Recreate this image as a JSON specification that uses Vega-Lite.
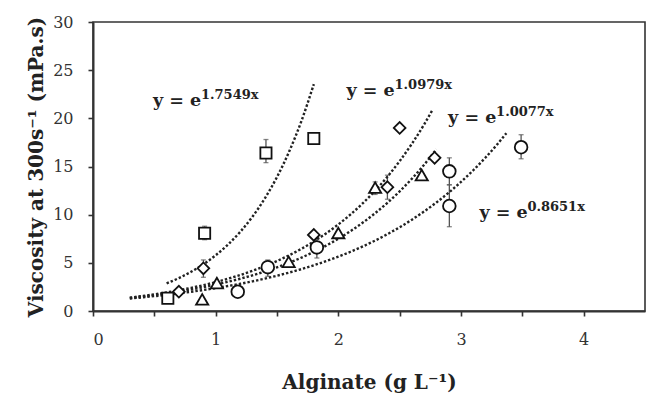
{
  "$schema": "https://vega.github.io/schema/vega-lite/v6.json",
  "width": 552,
  "height": 289,
  "autosize": "none",
  "padding": {"left": 93, "top": 22, "right": 1, "bottom": 86},
  "background": "white",
  "config": {
    "view": {"stroke": "#333", "strokeWidth": 1.6},
    "axis": {
      "grid": false,
      "domainColor": "#333",
      "domainWidth": 2,
      "tickColor": "#333",
      "tickWidth": 1.6,
      "tickSize": 5,
      "labelFont": "DejaVu Serif",
      "labelFontSize": 16,
      "labelColor": "#333",
      "titleFont": "DejaVu Serif",
      "titleFontSize": 20,
      "titleFontWeight": "bold",
      "titleColor": "#222"
    }
  },
  "datasets": {
    "points": [
      {"series": "square", "x": 0.61, "y": 1.32},
      {"series": "square", "x": 0.91, "y": 8.07, "lo": 7.4, "hi": 8.8},
      {"series": "square", "x": 1.41, "y": 16.4, "lo": 15.4, "hi": 17.8},
      {"series": "square", "x": 1.8, "y": 17.9},
      {"series": "diamond", "x": 0.7, "y": 2.0},
      {"series": "diamond", "x": 0.9, "y": 4.43, "lo": 3.5, "hi": 5.3},
      {"series": "diamond", "x": 1.8, "y": 7.9},
      {"series": "diamond", "x": 2.4, "y": 12.85, "lo": 11.6, "hi": 14.1},
      {"series": "diamond", "x": 2.5, "y": 19.0},
      {"series": "diamond", "x": 2.785, "y": 15.9},
      {"series": "triangle", "x": 0.89, "y": 1.2},
      {"series": "triangle", "x": 1.01, "y": 2.9},
      {"series": "triangle", "x": 1.595, "y": 5.1},
      {"series": "triangle", "x": 2.0, "y": 8.1},
      {"series": "triangle", "x": 2.3, "y": 12.8, "lo": 12.1, "hi": 13.4},
      {"series": "triangle", "x": 2.68, "y": 14.1},
      {"series": "circle", "x": 1.18, "y": 2.0},
      {"series": "circle", "x": 1.425, "y": 4.55, "lo": 3.6, "hi": 5.3},
      {"series": "circle", "x": 1.825, "y": 6.6, "lo": 5.5, "hi": 7.6},
      {"series": "circle", "x": 2.905, "y": 14.5, "lo": 13.1, "hi": 15.9},
      {"series": "circle", "x": 2.905, "y": 10.9, "lo": 8.75, "hi": 13.1},
      {"series": "circle", "x": 3.49, "y": 17.0, "lo": 15.8, "hi": 18.3}
    ],
    "curves": [
      {"curve": "A", "x": 0.6, "y": 2.866}, {"curve": "A", "x": 0.7, "y": 3.416}, {"curve": "A", "x": 0.8, "y": 4.071},
      {"curve": "A", "x": 0.9, "y": 4.852}, {"curve": "A", "x": 1.0, "y": 5.783}, {"curve": "A", "x": 1.1, "y": 6.892},
      {"curve": "A", "x": 1.2, "y": 8.215}, {"curve": "A", "x": 1.3, "y": 9.791}, {"curve": "A", "x": 1.4, "y": 11.67},
      {"curve": "A", "x": 1.5, "y": 13.91}, {"curve": "A", "x": 1.6, "y": 16.58}, {"curve": "A", "x": 1.7, "y": 19.75},
      {"curve": "A", "x": 1.8, "y": 23.54},
      {"curve": "B", "x": 0.3, "y": 1.39}, {"curve": "B", "x": 0.4, "y": 1.551}, {"curve": "B", "x": 0.5, "y": 1.732},
      {"curve": "B", "x": 0.6, "y": 1.932}, {"curve": "B", "x": 0.7, "y": 2.157}, {"curve": "B", "x": 0.8, "y": 2.407},
      {"curve": "B", "x": 0.9, "y": 2.686}, {"curve": "B", "x": 1.0, "y": 2.998}, {"curve": "B", "x": 1.1, "y": 3.346},
      {"curve": "B", "x": 1.2, "y": 3.734}, {"curve": "B", "x": 1.3, "y": 4.168}, {"curve": "B", "x": 1.4, "y": 4.651},
      {"curve": "B", "x": 1.5, "y": 5.191}, {"curve": "B", "x": 1.6, "y": 5.793}, {"curve": "B", "x": 1.7, "y": 6.465},
      {"curve": "B", "x": 1.8, "y": 7.215}, {"curve": "B", "x": 1.9, "y": 8.053}, {"curve": "B", "x": 2.0, "y": 8.988},
      {"curve": "B", "x": 2.1, "y": 10.03}, {"curve": "B", "x": 2.2, "y": 11.19}, {"curve": "B", "x": 2.3, "y": 12.49},
      {"curve": "B", "x": 2.4, "y": 13.94}, {"curve": "B", "x": 2.5, "y": 15.56}, {"curve": "B", "x": 2.6, "y": 17.37},
      {"curve": "B", "x": 2.7, "y": 19.38}, {"curve": "B", "x": 2.77, "y": 20.93},
      {"curve": "C", "x": 0.3, "y": 1.353}, {"curve": "C", "x": 0.4, "y": 1.496}, {"curve": "C", "x": 0.5, "y": 1.655},
      {"curve": "C", "x": 0.6, "y": 1.831}, {"curve": "C", "x": 0.7, "y": 2.025}, {"curve": "C", "x": 0.8, "y": 2.239},
      {"curve": "C", "x": 0.9, "y": 2.477}, {"curve": "C", "x": 1.0, "y": 2.739}, {"curve": "C", "x": 1.1, "y": 3.03},
      {"curve": "C", "x": 1.2, "y": 3.351}, {"curve": "C", "x": 1.3, "y": 3.706}, {"curve": "C", "x": 1.4, "y": 4.099},
      {"curve": "C", "x": 1.5, "y": 4.534}, {"curve": "C", "x": 1.6, "y": 5.015}, {"curve": "C", "x": 1.7, "y": 5.546},
      {"curve": "C", "x": 1.8, "y": 6.134}, {"curve": "C", "x": 1.9, "y": 6.784}, {"curve": "C", "x": 2.0, "y": 7.504},
      {"curve": "C", "x": 2.1, "y": 8.299}, {"curve": "C", "x": 2.2, "y": 9.179}, {"curve": "C", "x": 2.3, "y": 10.15},
      {"curve": "C", "x": 2.4, "y": 11.23}, {"curve": "C", "x": 2.5, "y": 12.42}, {"curve": "C", "x": 2.6, "y": 13.74},
      {"curve": "C", "x": 2.7, "y": 15.19}, {"curve": "C", "x": 2.8, "y": 16.8},
      {"curve": "D", "x": 0.3, "y": 1.296}, {"curve": "D", "x": 0.4, "y": 1.413}, {"curve": "D", "x": 0.5, "y": 1.541},
      {"curve": "D", "x": 0.6, "y": 1.681}, {"curve": "D", "x": 0.7, "y": 1.832}, {"curve": "D", "x": 0.8, "y": 1.998},
      {"curve": "D", "x": 0.9, "y": 2.178}, {"curve": "D", "x": 1.0, "y": 2.375}, {"curve": "D", "x": 1.1, "y": 2.59},
      {"curve": "D", "x": 1.2, "y": 2.824}, {"curve": "D", "x": 1.3, "y": 3.079}, {"curve": "D", "x": 1.4, "y": 3.357},
      {"curve": "D", "x": 1.5, "y": 3.661}, {"curve": "D", "x": 1.6, "y": 3.992}, {"curve": "D", "x": 1.7, "y": 4.352},
      {"curve": "D", "x": 1.8, "y": 4.746}, {"curve": "D", "x": 1.9, "y": 5.174}, {"curve": "D", "x": 2.0, "y": 5.642},
      {"curve": "D", "x": 2.1, "y": 6.152}, {"curve": "D", "x": 2.2, "y": 6.708}, {"curve": "D", "x": 2.3, "y": 7.314},
      {"curve": "D", "x": 2.4, "y": 7.975}, {"curve": "D", "x": 2.5, "y": 8.696}, {"curve": "D", "x": 2.6, "y": 9.481},
      {"curve": "D", "x": 2.7, "y": 10.34}, {"curve": "D", "x": 2.8, "y": 11.27}, {"curve": "D", "x": 2.9, "y": 12.29},
      {"curve": "D", "x": 3.0, "y": 13.4}, {"curve": "D", "x": 3.1, "y": 14.61}, {"curve": "D", "x": 3.2, "y": 15.93},
      {"curve": "D", "x": 3.3, "y": 17.37}, {"curve": "D", "x": 3.37, "y": 18.46}
    ],
    "labels": [
      {"exp": "1.7549x", "x": 0.489, "y": 21.28},
      {"exp": "1.0979x", "x": 2.067, "y": 22.3},
      {"exp": "1.0077x", "x": 2.895, "y": 19.5},
      {"exp": "0.8651x", "x": 3.15, "y": 9.62}
    ]
  },
  "encoding": {
    "x": {
      "type": "quantitative",
      "scale": {"domain": [0, 4.5], "nice": false, "zero": false},
      "axis": {
        "title": "Alginate (g L⁻¹)",
        "values": [0, 0.5, 1, 1.5, 2, 2.5, 3, 3.5, 4],
        "labelExpr": "datum.value % 1 === 0 ? format(datum.value, 'd') : ''",
        "labelPadding": 15,
        "titlePadding": 25
      }
    },
    "y": {
      "type": "quantitative",
      "scale": {"domain": [0, 30], "nice": false},
      "axis": {
        "title": "Viscosity at 300s⁻¹ (mPa.s)",
        "values": [0, 5, 10, 15, 20, 25, 30],
        "labelPadding": 15,
        "titlePadding": 6
      }
    }
  },
  "layer": [
    {
      "data": {"name": "points"},
      "transform": [{"filter": "isValid(datum.lo)"}],
      "mark": {"type": "errorbar", "ticks": true, "color": "#555", "thickness": 1.3},
      "encoding": {
        "x": {"field": "x", "type": "quantitative"},
        "y": {"field": "lo", "type": "quantitative"},
        "y2": {"field": "hi"}
      }
    },
    {
      "data": {"name": "curves"},
      "mark": {"type": "line", "color": "#222", "strokeWidth": 2.4, "strokeDash": [2.4, 2], "interpolate": "monotone"},
      "encoding": {
        "x": {"field": "x", "type": "quantitative"},
        "y": {"field": "y", "type": "quantitative"},
        "detail": {"field": "curve"}
      }
    },
    {
      "data": {"name": "points"},
      "mark": {"type": "point", "filled": false, "fill": "white", "fillOpacity": 1, "color": "#111", "strokeWidth": 1.8, "opacity": 1},
      "encoding": {
        "x": {"field": "x", "type": "quantitative"},
        "y": {"field": "y", "type": "quantitative"},
        "shape": {
          "field": "series",
          "type": "nominal",
          "scale": {"domain": ["square", "diamond", "triangle", "circle"], "range": ["square", "diamond", "triangle-up", "circle"]},
          "legend": null
        },
        "size": {
          "field": "series",
          "type": "nominal",
          "scale": {"domain": ["square", "diamond", "triangle", "circle"], "range": [125, 160, 150, 110]},
          "legend": null
        }
      }
    },
    {
      "data": {"name": "labels"},
      "mark": {"type": "text", "align": "left", "baseline": "alphabetic", "font": "DejaVu Serif", "fontWeight": "bold", "fontSize": 17.5, "color": "#222"},
      "encoding": {
        "x": {"field": "x", "type": "quantitative"},
        "y": {"field": "y", "type": "quantitative"},
        "text": {"value": "y = e"}
      }
    },
    {
      "data": {"name": "labels"},
      "mark": {"type": "text", "align": "left", "baseline": "alphabetic", "font": "DejaVu Serif", "fontWeight": "bold", "fontSize": 13, "color": "#222", "dx": 48, "dy": -7},
      "encoding": {
        "x": {"field": "x", "type": "quantitative"},
        "y": {"field": "y", "type": "quantitative"},
        "text": {"field": "exp"}
      }
    }
  ]
}
